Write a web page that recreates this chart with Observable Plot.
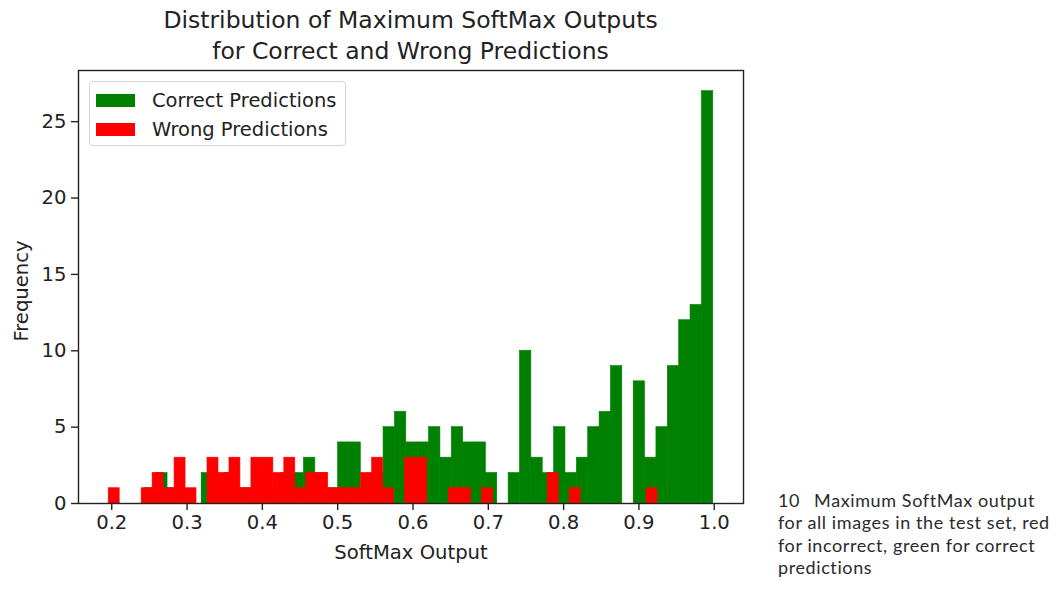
<!DOCTYPE html>
<html>
<head>
<meta charset="utf-8">
<script src="https://cdn.jsdelivr.net/npm/d3@7"></script>
<script src="https://cdn.jsdelivr.net/npm/@observablehq/plot@0.6"></script>
<style>
  body { margin: 0; background: #fff; }
  #wrap { position: relative; width: 1062px; height: 591px; overflow: hidden; font-family: "DejaVu Sans", sans-serif; color: #222; }
  #chart { position: absolute; left: 0; top: 0; }
  #title { position: absolute; left: 78px; width: 665px; top: 5px; text-align: center; font-size: 23.5px; line-height: 31px; color: #222; white-space: nowrap; }
  #legend { position: absolute; left: 89px; top: 81px; width: 257px; height: 65px; border: 1px solid #d4d4d4; border-radius: 4px; background: rgba(255,255,255,0.8); box-sizing: border-box; }
  .item { position: absolute; left: 6px; height: 20px; display: flex; align-items: center; font-size: 19.5px; white-space: nowrap; color: #222; }
  .sw { width: 39px; height: 13px; margin-right: 17px; }
  #caption { position: absolute; left: 778px; top: 489px; font-family: Lato, "Open Sans", sans-serif; font-size: 18px; letter-spacing: 0.6px; line-height: 22.4px; color: #2b2b2b; white-space: nowrap; }
</style>
</head>
<body>
<div id="wrap">
  <div id="chart"></div>
  <div id="title"></div>
  <div id="legend"></div>
  <div id="caption"></div>
</div>
<script>
// ---- data ----
const titleLines = ["Distribution of Maximum SoftMax Outputs", "for Correct and Wrong Predictions"];
const xLabel = "SoftMax Output";
const yLabel = "Frequency";
const seriesNames = ["Correct Predictions", "Wrong Predictions"];
const seriesColors = ["#008000", "#ff0000"];
const captionNumber = "10";
const captionLines = ["Maximum SoftMax output", "for all images in the test set, red", "for incorrect, green for correct", "predictions"];

// histogram ranges (min, max of each series), 50 bins each
const correctRange = [0.2439, 0.9987];
const wrongRange = [0.196, 0.9246];
const correctCounts = [1, 2, 1, 0, 0, 2, 1, 2, 1, 1, 2, 1, 2, 2, 3, 2, 1, 4, 4, 1,
                       2, 5, 6, 4, 4, 5, 3, 5, 4, 4, 2, 0, 2, 10, 3, 2, 5, 2, 3, 5,
                       6, 9, 0, 8, 3, 5, 9, 12, 13, 27];
const wrongCounts = [1, 0, 0, 1, 2, 1, 3, 1, 0, 3, 2, 3, 1, 3, 3, 2, 3, 1, 2, 2,
                     1, 1, 1, 2, 3, 1, 0, 3, 3, 0, 0, 1, 1, 0, 1, 0, 0, 0, 0, 0,
                     2, 0, 1, 0, 0, 0, 0, 0, 0, 1];
const xTicks = [0.2, 0.3, 0.4, 0.5, 0.6, 0.7, 0.8, 0.9, 1.0];
const yTicks = [0, 5, 10, 15, 20, 25];

// ---- build bin tables ----
function binTable(range, counts, series) {
  const w = (range[1] - range[0]) / counts.length;
  return counts.map((c, i) => ({x1: range[0] + i * w, x2: range[0] + (i + 1) * w, y: c, series}));
}
const correctBins = binTable(correctRange, correctCounts, seriesNames[0]).filter(d => d.y > 0);
const wrongBins = binTable(wrongRange, wrongCounts, seriesNames[1]).filter(d => d.y > 0);

// matplotlib-like 5% margins
const xmin = Math.min(correctRange[0], wrongRange[0]);
const xmax = Math.max(correctRange[1], wrongRange[1]);
const xpad = (xmax - xmin) * 0.05;
const ymax = Math.max(...correctCounts, ...wrongCounts) * 1.05;

const chart = Plot.plot({
  width: 1062,
  height: 591,
  marginLeft: 78,
  marginRight: 319,
  marginTop: 70,
  marginBottom: 88,
  x: {domain: [xmin - xpad, xmax + xpad]},
  y: {domain: [0, ymax]},
  style: {fontFamily: "DejaVu Sans", fontSize: "19.6px", color: "#222", background: "transparent", overflow: "visible"},
  marks: [
    Plot.rectY(correctBins, {x1: "x1", x2: "x2", y: "y", fill: seriesColors[0], stroke: seriesColors[0], strokeWidth: 0.6}),
    Plot.rectY(wrongBins, {x1: "x1", x2: "x2", y: "y", fill: seriesColors[1], stroke: seriesColors[1], strokeWidth: 0.6}),
    Plot.frame({stroke: "#222", strokeWidth: 1.4}),
    Plot.axisX({ticks: xTicks, tickFormat: d3.format(".1f"), tickSize: 7, tickPadding: 5, strokeWidth: 1.4, label: null, fontSize: 19.6}),
    Plot.axisY({ticks: yTicks, tickSize: 7, tickPadding: 5, strokeWidth: 1.4, label: null, fontSize: 19.6}),
    Plot.text([xLabel], {frameAnchor: "bottom", dy: 55, fontSize: 19.6, fill: "#222"}),
    Plot.text([yLabel], {frameAnchor: "left", textAnchor: "middle", rotate: -90, dx: -57, dy: 4, fontSize: 19.6, fill: "#222"})
  ]
});
document.getElementById("chart").appendChild(chart);

document.getElementById("title").innerHTML = titleLines.join("<br>");

const legend = document.getElementById("legend");
seriesNames.forEach((name, i) => {
  const it = document.createElement("div");
  it.className = "item";
  it.style.top = (8 + i * 29) + "px";
  it.innerHTML = `<span class="sw" style="background:${seriesColors[i]}"></span><span>${name}</span>`;
  legend.appendChild(it);
});

document.getElementById("caption").innerHTML =
  `<span style="margin-right:14px">${captionNumber}</span>${captionLines[0]}<br>` + captionLines.slice(1).join("<br>");
</script>
</body>
</html>
